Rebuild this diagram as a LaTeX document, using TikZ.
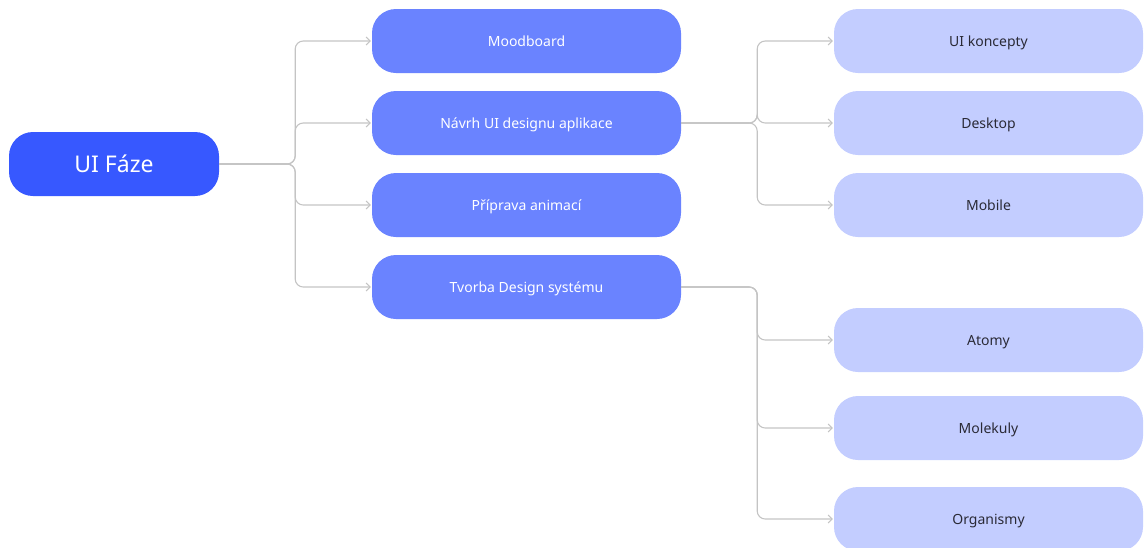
\documentclass[tikz,border=0pt]{standalone}
\usepackage{fontspec}
\setmainfont{Noto Sans}
\usetikzlibrary{arrows.meta}
\definecolor{rootblue}{HTML}{3758FF}
\definecolor{midblue}{HTML}{6A83FF}
\definecolor{paleblue}{HTML}{C3CDFF}
\definecolor{linkgray}{HTML}{C4C4C4}
\definecolor{darktext}{HTML}{2A2A36}
\tikzset{
  x=1pt, y=-1pt,
  box/.style={rounded corners=24pt, minimum height=64pt, inner sep=0pt, align=center},
  rootbox/.style={box, fill=rootblue, minimum width=210pt, text=white,
    text height=16.5pt, text depth=0pt, font=\fontsize{23}{27}\selectfont},
  phasebox/.style={box, fill=midblue, minimum width=309pt, text=white,
    text height=10pt, text depth=0pt, font=\fontsize{14}{17}\selectfont},
  subbox/.style={box, fill=paleblue, minimum width=309pt, text=darktext,
    text height=10pt, text depth=0pt, font=\fontsize{14}{17}\selectfont},
  conn/.style={draw=linkgray, line width=1.1pt, rounded corners=8pt,
    -{Straight Barb[length=4pt,width=8pt,line width=1pt]}},
}
\begin{document}
\begin{tikzpicture}
\useasboundingbox (0,0) rectangle (1145,547);

% root
\node[rootbox] (root) at (114,164) {UI Fáze};

% phases
\node[phasebox] (mood)  at (526.5,41)  {Moodboard};
\node[phasebox] (navrh) at (526.5,123) {Návrh UI designu aplikace};
\node[phasebox] (anim)  at (526.5,205) {Příprava animací};
\node[phasebox] (ds)    at (526.5,287) {Tvorba Design systému};

% sub-steps
\node[subbox] (konc) at (988.5,41)  {UI koncepty};
\node[subbox] (desk) at (988.5,123) {Desktop};
\node[subbox] (mob)  at (988.5,205) {Mobile};
\node[subbox] (atom) at (988.5,340) {Atomy};
\node[subbox] (mol)  at (988.5,428) {Molekuly};
\node[subbox] (org)  at (988.5,519) {Organismy};

% connectors from the root
\foreach \t in {mood,navrh,anim,ds}
  \draw[conn] (root.east) -- ++(76,0) |- ([xshift=-1pt]\t.west);

% connectors from the UI design phase
\foreach \t in {konc,desk,mob}
  \draw[conn] (navrh.east) -- ++(76,0) |- ([xshift=-1pt]\t.west);

% connectors from the design system phase
\foreach \t in {atom,mol,org}
  \draw[conn] (ds.east) -- ++(76,0) |- ([xshift=-1pt]\t.west);
\end{tikzpicture}
\end{document}
